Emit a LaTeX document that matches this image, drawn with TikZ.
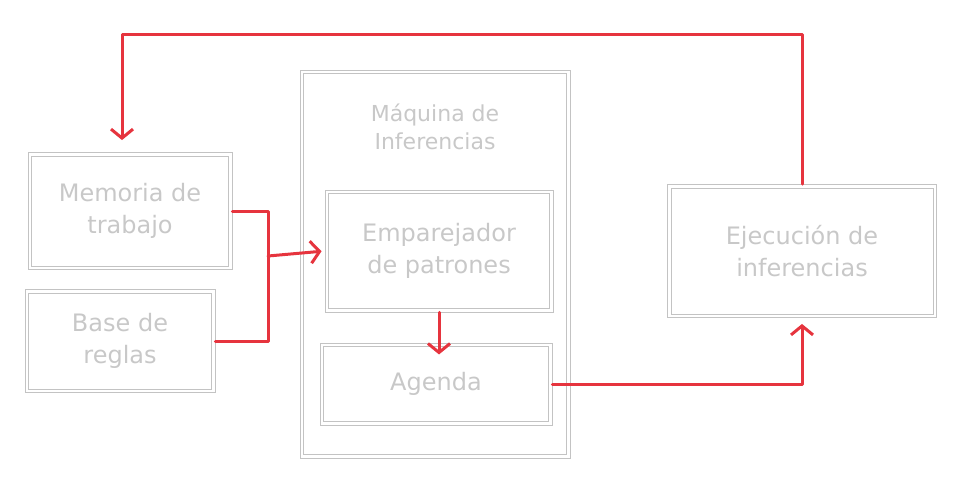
\documentclass[tikz,border=0pt]{standalone}
\usepackage{fontspec}
\setmainfont{DejaVu Sans}
\usetikzlibrary{arrows.meta}
\definecolor{redline}{RGB}{230,52,62}
\definecolor{boxline}{RGB}{195,195,195}
\definecolor{txt}{RGB}{200,200,200}
\tikzset{
  box/.style={draw=boxline, line width=0.9pt, inner sep=0pt, text=txt, font=\fontsize{24}{32}\selectfont, align=center},
  inner/.style={draw=boxline, line width=0.9pt},
  conn/.style={draw=redline, line width=3pt, line cap=round, line join=round},
  arr/.style={conn, -{Straight Barb[length=9pt,width=22pt,line width=3pt]}}
}
\begin{document}
\begin{tikzpicture}[x=1pt,y=-1pt]
\useasboundingbox (0,0) rectangle (954,480);
\node[box, minimum width=204pt, minimum height=117pt] (mem) at (130,211) {Memoria de\\trabajo};
\node[box, minimum width=190pt, minimum height=103pt] (base) at (120,341) {Base de\\reglas};
\node[box, minimum width=270pt, minimum height=388pt] (maq) at (435,264) {};
\node[text=txt, font=\fontsize{22}{28}\selectfont, align=center] (tit) at (435,127) {Máquina de\\Inferencias};
\node[box, minimum width=228pt, minimum height=122pt] (emp) at (439,251) {Emparejador\\de patrones};
\node[box, minimum width=232pt, minimum height=82pt] (ag) at (436,384) {Agenda};
\node[box, minimum width=269pt, minimum height=133pt] (ej) at (802,251) {Ejecución de\\inferencias};
\foreach \n in {mem,base,maq,emp,ag,ej}
  \draw[inner] ([shift={(4pt,-4pt)}]\n.north west) rectangle ([shift={(-4pt,4pt)}]\n.south east);
\draw[arr, shorten >=12pt] (ej.north) -- ++(0,-150) -| ([xshift=-8pt]mem.north);
\draw[conn] (mem.east) -- ++(36,0) |- (base.east);
\coordinate (j) at (268,256);
\draw[arr, shorten >=3pt] (j) -- (emp.west);
\draw[arr, shorten >=0pt] (emp.south) -- ++(0,42);
\draw[arr, shorten >=6pt] (ag.east) -| (ej.south);
\end{tikzpicture}
\end{document}
